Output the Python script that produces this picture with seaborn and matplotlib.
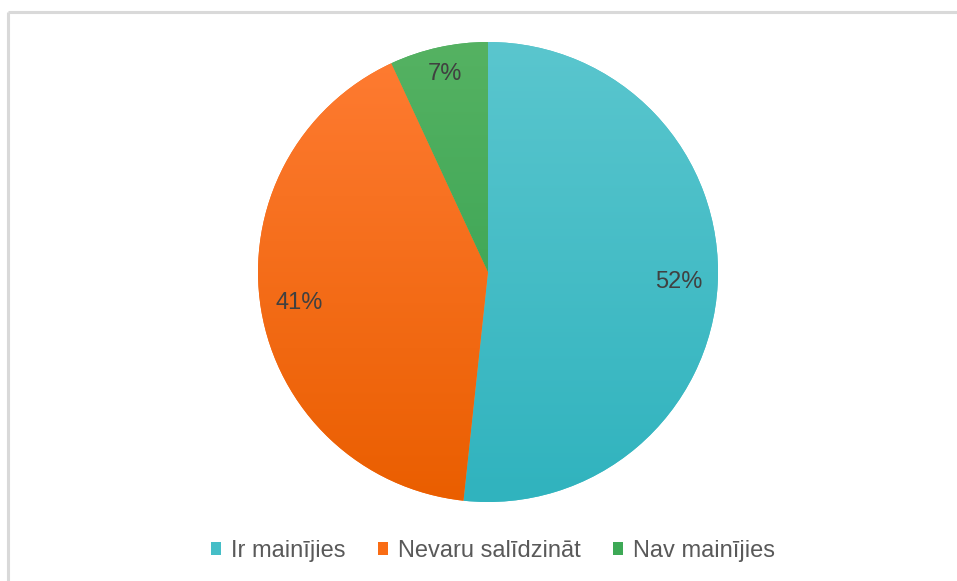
import numpy as np
import matplotlib
matplotlib.use("Agg")
import matplotlib.pyplot as plt
import seaborn as sns
from matplotlib.colors import LinearSegmentedColormap
from matplotlib.patches import Patch

sns.set_theme(style="white")
plt.rcParams['font.family'] = ['Liberation Sans', 'DejaVu Sans']

categories = ["Ir mainījies", "Nevaru salīdzināt", "Nav mainījies"]
values = [51.7, 41.4, 6.9]
top_colors = ["#5AC6CE", "#FF7C33", "#55B262"]
bottom_colors = ["#30B3BE", "#EA5E00", "#2E9E4E"]
base_colors = ["#45BEC7", "#F96C14", "#3DA956"]

W, H = 957, 581
fig = plt.figure(figsize=(W / 100, H / 100), dpi=100)

# light frame (left + top)
frame = fig.add_axes([0, 0, 1, 1])
frame.set_xlim(0, W)
frame.set_ylim(H, 0)
frame.axis("off")
frame.plot([8, 8], [H, 12], color="#D9D9D9", lw=2.2, solid_capstyle="butt")
frame.plot([8, W], [12, 12], color="#D9D9D9", lw=2.2, solid_capstyle="butt")

cx, cy, r = 488, 272, 230
ax = fig.add_axes([(cx - r) / W, (H - cy - r) / H, 2 * r / W, 2 * r / H])
wedges, texts, autotexts = ax.pie(
    values, colors=base_colors, startangle=90, counterclock=False,
    autopct=lambda p: f"{p:.0f}%", pctdistance=0.83,
    wedgeprops=dict(linewidth=0),
    textprops=dict(color="#404040", fontsize=17),
)
ax.set_xlim(-1, 1)
ax.set_ylim(-1, 1)
ax.set_aspect("auto")

grad = np.linspace(1, 0, 256).reshape(-1, 1)
for w, tc, bc in zip(wedges, top_colors, bottom_colors):
    cmap = LinearSegmentedColormap.from_list("g", [bc, tc])
    im = ax.imshow(grad, cmap=cmap, extent=[-1, 1, -1, 1], aspect="auto",
                   origin="upper", zorder=w.get_zorder() + 0.1, vmin=0, vmax=1)
    im.set_clip_path(w)
for t in autotexts:
    t.set_zorder(5)
autotexts[2].set_position((autotexts[2].get_position()[0] * 1.06,
                           autotexts[2].get_position()[1] * 1.06))

handles = [Patch(facecolor=c, edgecolor="none") for c in base_colors]
fig.legend(handles, categories, loc="center", bbox_to_anchor=(493 / W, 1 - 551 / H),
           ncol=3, frameon=False, fontsize=17, handlelength=0.42, handleheight=0.42,
           handletextpad=0.4, columnspacing=1.4, labelcolor="#595959")

fig.savefig("out.png", dpi=100)
